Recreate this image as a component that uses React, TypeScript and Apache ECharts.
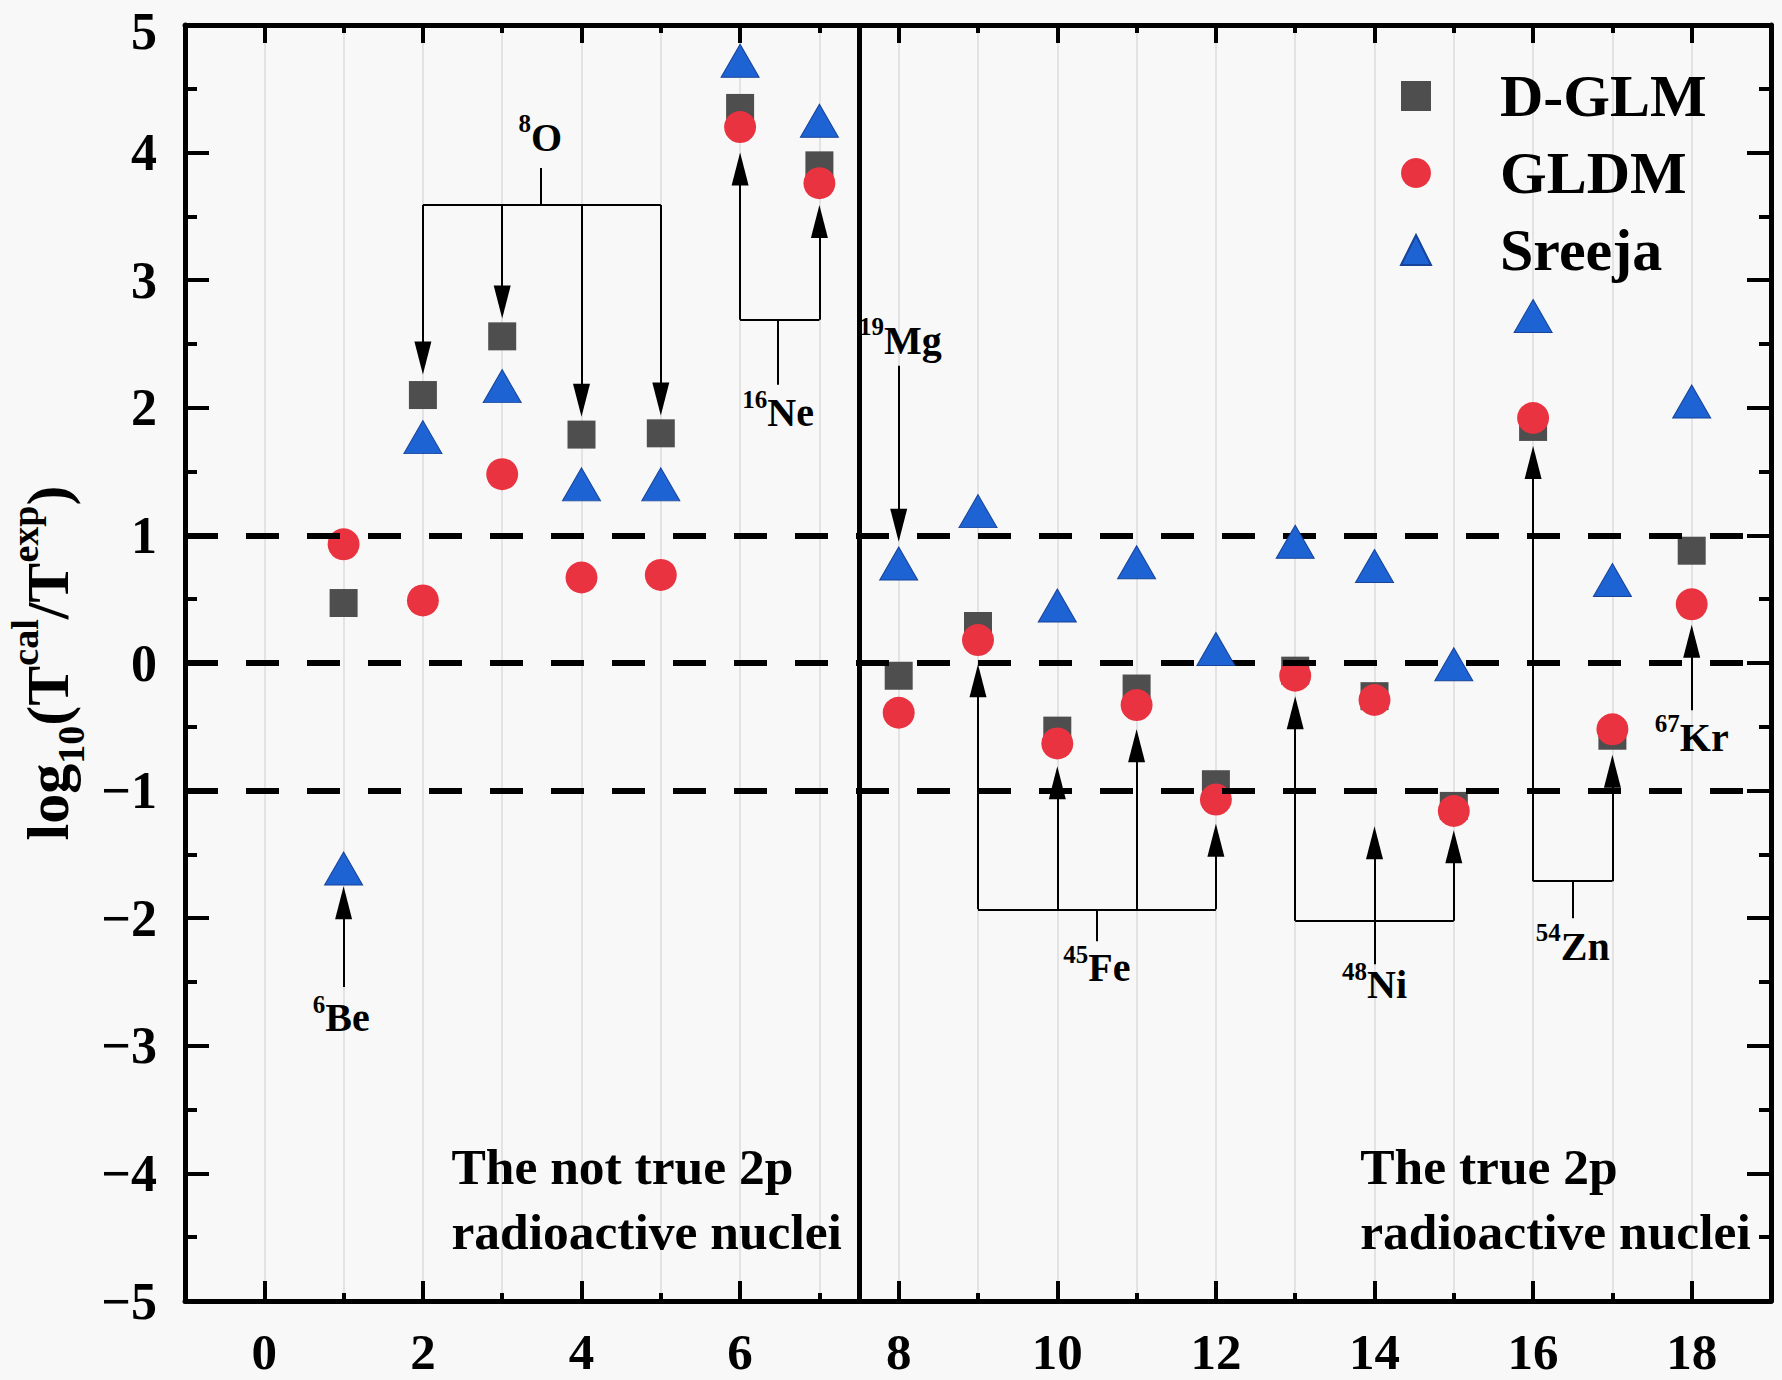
import React, { useEffect, useRef } from "react";
import * as echarts from "echarts";

// ---------------- data ----------------
const nucleusIndex = [1, 2, 3, 4, 5, 6, 7, 8, 9, 10, 11, 12, 13, 14, 15, 16, 17, 18];
const dglm = [0.47, 2.1, 2.56, 1.79, 1.8, 4.35, 3.9, -0.1, 0.29, -0.53, -0.2, -0.95, -0.06, -0.26, -1.12, 1.85, -0.57, 0.88];
const gldm = [0.93, 0.49, 1.48, 0.67, 0.69, 4.2, 3.76, -0.39, 0.18, -0.63, -0.33, -1.07, -0.1, -0.29, -1.16, 1.92, -0.52, 0.46];
const sreeja = [-1.61, 1.77, 2.17, 1.4, 1.4, 4.72, 4.25, 0.78, 1.19, 0.45, 0.79, 0.11, 0.95, 0.76, -0.01, 2.72, 0.65, 2.05];

const xMajorTicks = [0, 2, 4, 6, 8, 10, 12, 14, 16, 18];
const xMinorTicks = [1, 3, 5, 7, 9, 11, 13, 15, 17];
const referenceLevels = [1, 0, -1];
const dividerX = 7.5;
const yMax = 5;

// nucleus labels: mass number (superscript), element, anchor in data coordinates
const nucleusLabels = [
  { mass: "8", el: "O", x: 3.48, y: 4.12 },
  { mass: "16", el: "Ne", x: 6.48, y: 1.96 },
  { mass: "19", el: "Mg", x: 8.02, y: 2.53 },
  { mass: "6", el: "Be", x: 0.97, y: -2.78 },
  { mass: "45", el: "Fe", x: 10.5, y: -2.39 },
  { mass: "48", el: "Ni", x: 14.0, y: -2.52 },
  { mass: "54", el: "Zn", x: 16.5, y: -2.22 },
  { mass: "67", el: "Kr", x: 18.0, y: -0.58 },
];

// plain connector segments [x1, y1, x2, y2]
const connectors = [
  [3.48, 3.88, 3.48, 3.59],
  [2, 3.59, 5, 3.59],
  [6, 2.69, 7, 2.69],
  [6.48, 2.69, 6.48, 2.18],
  [9, -1.93, 12, -1.93],
  [10.5, -1.93, 10.5, -2.18],
  [13, -2.02, 15, -2.02],
  [16, -1.71, 17, -1.71],
  [16.5, -1.71, 16.5, -2.0],
];

// arrows [x, yFrom, yTip]
const arrows = [
  [2, 3.59, 2.26],
  [3, 3.59, 2.7],
  [4, 3.59, 1.93],
  [5, 3.59, 1.94],
  [6, 2.69, 4.0],
  [7, 2.69, 3.59],
  [8, 2.33, 0.95],
  [1, -2.54, -1.75],
  [9, -1.93, -0.01],
  [10, -1.93, -0.81],
  [11, -1.93, -0.52],
  [12, -1.93, -1.26],
  [13, -2.02, -0.26],
  [14, -2.36, -1.28],
  [15, -2.02, -1.31],
  [16, -1.71, 1.7],
  [17, -1.71, -0.72],
  [18, -0.37, 0.3],
];

const regionTexts = [
  { text: "The not true 2p\nradioactive nuclei", x: 2.36, y: -4.2 },
  { text: "The true 2p\nradioactive nuclei", x: 13.82, y: -4.2 },
];

// ---------------- styling ----------------
const FONT = "'Liberation Serif', 'Times New Roman', serif";
const ARROW_W = 17;
const ARROW_L = 33;
const Y_UNITS_PER_PX = 10 / 1276;
const ARROW_HALF = (ARROW_L / 2) * Y_UNITS_PER_PX;

function buildOption() {
  const boldText = {
    fontFamily: FONT,
    fontWeight: "bold" as const,
    color: "#000",
    opacity: 1,
    textBorderWidth: 0,
    textShadowBlur: 0,
  };
  const yLabel = (v: number) => {
    const s = String(v).replace("-", "\u2212");
    return v === yMax ? `{top|${s}}` : s;
  };

  const annotationData = [
    ...nucleusLabels.map((l) => ({
      value: [l.x, l.y],
      label: {
        show: true,
        position: "inside",
        align: "center",
        verticalAlign: "middle",
        ...boldText,
        formatter: `{s|${l.mass}}{m|${l.el}}`,
        rich: {
          s: { ...boldText, fontSize: 25, lineHeight: 25, verticalAlign: "top" },
          m: { ...boldText, fontSize: 40, lineHeight: 52, verticalAlign: "middle" },
        },
      },
    })),
    ...regionTexts.map((t) => ({
      value: [t.x, t.y],
      label: {
        show: true,
        position: "inside",
        align: "left",
        verticalAlign: "middle",
        formatter: t.text,
        ...boldText,
        fontSize: 51.5,
        lineHeight: 65,
      },
    })),
  ];

  const markLineData: any[] = [
    ...referenceLevels.map((v) => ({
      yAxis: v,
      lineStyle: { type: [33, 28], width: 6, color: "#000" },
    })),
    { xAxis: dividerX, lineStyle: { type: "solid", width: 5, color: "#000" } },
    ...connectors.map(([x1, y1, x2, y2]) => [{ coord: [x1, y1] }, { coord: [x2, y2] }]),
    ...arrows.map(([x, from, tip]) => {
      const dir = tip > from ? 1 : -1;
      return [
        { coord: [x, from] },
        { coord: [x, tip - dir * ARROW_HALF], symbol: "triangle", symbolSize: [ARROW_W, ARROW_L] },
      ];
    }),
  ];

  const tickLine = { color: "#000", width: 4 };
  const axisLineStyle = { color: "#000", width: 5 };

  const xBase = { type: "value", min: -1, max: 19, splitLine: { show: false } };

  return {
    animation: false,
    backgroundColor: "#f8f8f8",
    grid: { left: 185, right: 11, top: 25, bottom: 79, containLabel: false, outerBoundsMode: "none" },
    legend: {
      data: ["D-GLM", "GLDM", "Sreeja"],
      orient: "vertical",
      left: 1395,
      top: 61,
      itemWidth: 30,
      itemHeight: 30,
      itemGap: 17,
      selectedMode: false,
      textStyle: { ...boldText, fontSize: 60, lineHeight: 60, padding: [0, 0, 0, 64] },
    },
    xAxis: [
      {
        ...xBase,
        position: "bottom",
        axisLine: { show: true, onZero: false, lineStyle: axisLineStyle },
        axisTick: { show: true, inside: true, length: 20, customValues: xMajorTicks, lineStyle: tickLine },
        axisLabel: { show: true, customValues: xMajorTicks, margin: 25, fontSize: 51, lineHeight: 51, ...boldText },
      },
      {
        ...xBase,
        position: "bottom",
        axisLine: { show: false, onZero: false },
        axisTick: { show: true, inside: true, length: 8, customValues: xMinorTicks, lineStyle: tickLine },
        axisLabel: { show: false },
      },
      {
        ...xBase,
        position: "top",
        axisLine: { show: true, onZero: false, lineStyle: axisLineStyle },
        axisTick: { show: true, inside: true, length: 18, customValues: xMajorTicks, lineStyle: tickLine },
        axisLabel: { show: false },
      },
      {
        ...xBase,
        position: "top",
        axisLine: { show: false, onZero: false },
        axisTick: { show: true, inside: true, length: 8, customValues: xMinorTicks, lineStyle: tickLine },
        axisLabel: { show: false },
      },
      {
        type: "value",
        min: -1,
        max: 19,
        interval: 1,
        position: "bottom",
        axisLine: { show: false, onZero: false },
        axisTick: { show: false },
        axisLabel: { show: false },
        splitLine: { show: true, lineStyle: { color: "#e3e3e3", width: 2 } },
      },
    ],
    yAxis: [
      {
        type: "value",
        position: "left",
        min: -5,
        max: yMax,
        interval: 1,
        axisLine: { show: true, onZero: false, lineStyle: axisLineStyle },
        axisTick: { show: true, inside: true, length: 24, lineStyle: tickLine },
        minorTick: { show: true, splitNumber: 2, length: 12, lineStyle: tickLine },
        axisLabel: {
          show: true,
          margin: 28,
          fontSize: 52,
          lineHeight: 44,
          ...boldText,
          formatter: yLabel,
          rich: {
            top: { ...boldText, fontSize: 52, lineHeight: 44, padding: [12, 0, 0, 0] },
          },
        },
        splitLine: { show: false },
        minorSplitLine: { show: false },
        name: "{a|log}{sub|10}{a|(T}{sup|cal}{a|/T}{sup|exp}{a|)}",
        nameLocation: "middle",
        nameRotate: 90,
        nameGap: 92,
        nameTextStyle: {
          ...boldText,
          rich: {
            a: { ...boldText, fontSize: 60, lineHeight: 84, verticalAlign: "middle" },
            sup: { ...boldText, fontSize: 38, lineHeight: 38, verticalAlign: "top" },
            sub: { ...boldText, fontSize: 38, lineHeight: 38, verticalAlign: "bottom" },
          },
        },
      },
      {
        type: "value",
        position: "right",
        min: -5,
        max: yMax,
        interval: 1,
        axisLine: { show: true, onZero: false, lineStyle: axisLineStyle },
        axisTick: { show: true, inside: true, length: 24, lineStyle: tickLine },
        minorTick: { show: true, splitNumber: 2, length: 12, lineStyle: tickLine },
        axisLabel: { show: false },
        splitLine: { show: false },
        minorSplitLine: { show: false },
      },
    ],
    series: [
      {
        name: "annotations",
        type: "scatter",
        xAxisIndex: 0,
        yAxisIndex: 0,
        silent: true,
        symbolSize: 0,
        itemStyle: { color: "#000", opacity: 1 },
        data: annotationData,
        z: 2,
        markLine: {
          silent: true,
          animation: false,
          symbol: ["none", "none"],
          label: { show: false },
          emphasis: { disabled: true },
          lineStyle: { color: "#000", width: 2, type: "solid" },
          data: markLineData,
        },
      },
      {
        name: "D-GLM",
        type: "scatter",
        xAxisIndex: 0,
        yAxisIndex: 0,
        symbol: "rect",
        symbolSize: 28,
        itemStyle: { color: "#4e4e4e", opacity: 1 },
        data: nucleusIndex.map((x, i) => [x, dglm[i]]),
        z: 3,
      },
      {
        name: "GLDM",
        type: "scatter",
        xAxisIndex: 0,
        yAxisIndex: 0,
        symbol: "circle",
        symbolSize: 32,
        itemStyle: { color: "#ea3340", opacity: 1 },
        data: nucleusIndex.map((x, i) => [x, gldm[i]]),
        z: 4,
      },
      {
        name: "Sreeja",
        type: "scatter",
        xAxisIndex: 0,
        yAxisIndex: 0,
        symbol: "triangle",
        symbolSize: [38, 33],
        itemStyle: { color: "#1d63d3", borderColor: "#17439a", borderWidth: 1, opacity: 1 },
        data: nucleusIndex.map((x, i) => [x, sreeja[i]]),
        z: 5,
      },
    ],
  };
}

export default function App() {
  const ref = useRef<HTMLDivElement>(null);
  useEffect(() => {
    document.body.style.margin = "0";
    if (!ref.current) return;
    const chart = echarts.init(ref.current, null, { renderer: "svg" });
    chart.setOption(buildOption() as any);
    return () => chart.dispose();
  }, []);
  return <div ref={ref} style={{ width: 1782, height: 1380 }} />;
}
